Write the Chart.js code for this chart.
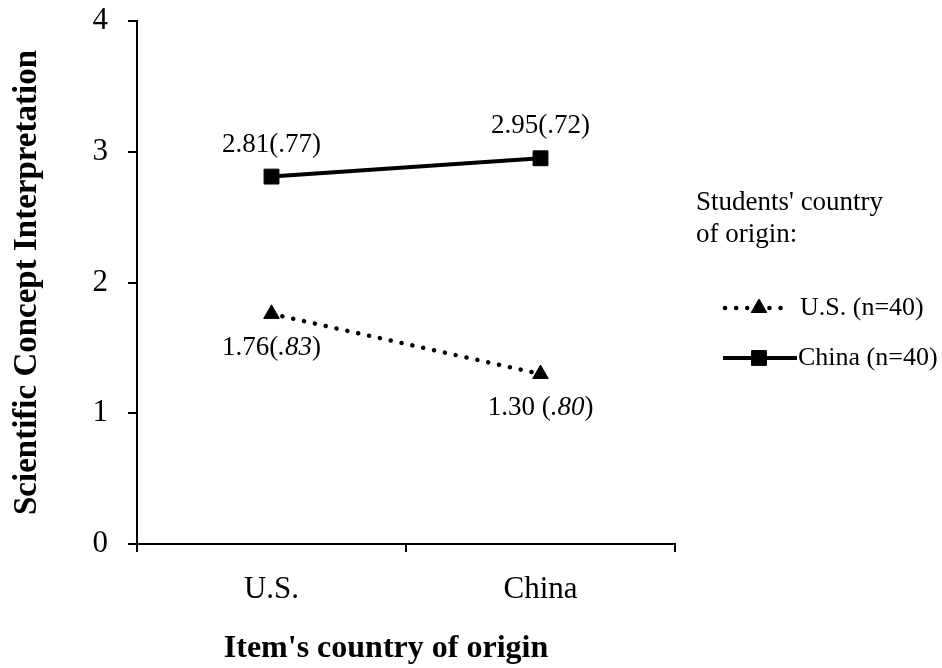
<!DOCTYPE html>
<html>
<head>
<meta charset="utf-8">
<script src="https://cdn.jsdelivr.net/npm/chart.js@4.4.0/dist/chart.umd.min.js"></script>
<style>
  html, body { margin: 0; padding: 0; background: #fff; }
</style>
</head>
<body>
<canvas id="lineChart" width="942" height="668"></canvas>
<script>
const itemCountries = ['U.S.', 'China']
const usStudents = [1.76, 1.30]
const chinaStudents = [2.81, 2.95]
const usLabels = ['1.76(.83)', '1.30 (.80)']
const chinaLabels = ['2.81(.77)', '2.95(.72)']
const seriesNames = ['U.S. (n=40)', 'China (n=40)']
const legendHeading = ["Students' country", 'of origin:']
const yTitle = 'Scientific Concept Interpretation'
const xTitle = "Item's country of origin"

const serif = "'Liberation Serif', 'Times New Roman', serif"

// mean + (sd) labels next to each point, sd part optionally italic
const pointLabels = {
  id: 'pointLabels',
  afterDatasetsDraw(chart) {
    const ctx = chart.ctx
    chart.data.datasets.forEach((ds, i) => {
      const meta = chart.getDatasetMeta(i)
      meta.data.forEach((pt, j) => {
        const str = ds.valueLabels[j]
        const k = str.indexOf('(')
        const head = str.slice(0, k + 1)
        const inner = str.slice(k + 1, -1)
        const tail = ')'
        const up = '27px ' + serif
        const it = (ds.sdItalic ? 'italic ' : '') + '27px ' + serif
        ctx.save()
        ctx.fillStyle = '#000'
        ctx.textBaseline = 'middle'
        ctx.textAlign = 'left'
        ctx.font = up
        const w1 = ctx.measureText(head).width
        const w3 = ctx.measureText(tail).width
        ctx.font = it
        const w2 = ctx.measureText(inner).width
        let x = pt.x - (w1 + w2 + w3) / 2
        const y = pt.y + ds.labelOffset
        ctx.font = up
        ctx.fillText(head, x, y)
        x += w1
        ctx.font = it
        ctx.fillText(inner, x, y)
        x += w2
        ctx.font = up
        ctx.fillText(tail, x, y)
        ctx.restore()
      })
    })
  }
}

// x axis title sits a bit left of the plot centre, like the original
const xAxisTitle = {
  id: 'xAxisTitle',
  afterDraw(chart) {
    const ctx = chart.ctx
    const area = chart.chartArea
    ctx.save()
    ctx.fillStyle = '#000'
    ctx.font = 'bold 32px ' + serif
    ctx.textAlign = 'center'
    ctx.textBaseline = 'middle'
    ctx.fillText(xTitle, area.left + 249, chart.scales.x.bottom - 19)
    ctx.restore()
  }
}

// legend drawn on the right, Excel style
const sideLegend = {
  id: 'sideLegend',
  afterDraw(chart) {
    const ctx = chart.ctx
    ctx.save()
    ctx.fillStyle = '#000'
    ctx.font = '27px ' + serif
    ctx.textBaseline = 'middle'
    ctx.textAlign = 'left'
    legendHeading.forEach((line, i) => ctx.fillText(line, 696, 203 + i * 32))

    const rows = [308, 358]
    chart.data.datasets.forEach((ds, i) => {
      const y = rows[i]
      const dotted = !!ds.borderDash
      ctx.save()
      ctx.strokeStyle = ds.borderColor
      ctx.lineWidth = ds.borderWidth
      ctx.lineCap = ds.borderCapStyle || 'butt'
      ctx.setLineDash(ds.borderDash || [])
      ctx.beginPath()
      ctx.moveTo(dotted ? 725 : 723, y)
      ctx.lineTo(dotted ? 790 : 797, y)
      ctx.stroke()
      ctx.restore()
      ctx.fillStyle = '#000'
      ctx.strokeStyle = '#000'
      ctx.lineWidth = 1
      Chart.helpers.drawPoint(ctx, {
        pointStyle: ds.pointStyle,
        radius: ds.pointRadius,
        rotation: 0,
        borderWidth: 1
      }, 759, y)
      ctx.fillStyle = '#000'
      ctx.font = '26px ' + serif
      ctx.fillText(ds.label, dotted ? 800 : 798, y)
    })
    ctx.restore()
  }
}

document.addEventListener('DOMContentLoaded', () => {
  const ctx = document.getElementById('lineChart').getContext('2d')

  new Chart(ctx, {
    type: 'line',
    data: {
      labels: itemCountries,
      datasets: [
        {
          label: seriesNames[0],
          data: usStudents,
          valueLabels: usLabels,
          sdItalic: true,
          labelOffset: 34,
          borderColor: '#000',
          backgroundColor: '#000',
          borderWidth: 4.5,
          borderDash: [0.1, 11],
          borderCapStyle: 'round',
          pointStyle: 'triangle',
          pointRadius: 9,
          pointBorderWidth: 1,
          pointBackgroundColor: '#000',
          pointBorderColor: '#000',
          fill: false,
        },
        {
          label: seriesNames[1],
          data: chinaStudents,
          valueLabels: chinaLabels,
          sdItalic: false,
          labelOffset: -32,
          borderColor: '#000',
          backgroundColor: '#000',
          borderWidth: 4,
          pointStyle: 'rect',
          pointRadius: 10.5,
          pointBorderWidth: 1,
          pointBackgroundColor: '#000',
          pointBorderColor: '#000',
          fill: false,
        },
      ],
    },
    options: {
      responsive: false,
      animation: false,
      layout: { padding: { top: 21, right: 267, left: 0, bottom: 0 } },
      plugins: {
        legend: { display: false },
        tooltip: { enabled: false },
      },
      scales: {
        x: {
          type: 'category',
          offset: true,
          afterFit: (scale) => {
            scale.height = 124
            scale.paddingLeft = 0
            scale.paddingRight = 0
          },
          grid: {
            offset: true,
            drawOnChartArea: false,
            drawTicks: true,
            tickLength: 8,
            color: '#000',
            lineWidth: 2,
          },
          border: { display: true, color: '#000', width: 2 },
          ticks: {
            color: '#000',
            padding: 19,
            font: { family: serif, size: 31 },
          },
        },
        y: {
          min: 0,
          max: 4,
          afterFit: (scale) => {
            scale.width = 137
            scale.paddingTop = 0
            scale.paddingBottom = 0
          },
          grid: {
            drawOnChartArea: false,
            drawTicks: true,
            tickLength: 9,
            color: '#000',
            lineWidth: 2,
          },
          border: { display: true, color: '#000', width: 2 },
          ticks: {
            stepSize: 1,
            color: '#000',
            padding: 20,
            font: { family: serif, size: 31 },
          },
          title: {
            display: true,
            text: yTitle,
            color: '#000',
            padding: { top: 8, bottom: 0 },
            font: { family: serif, size: 33, weight: 'bold' },
          },
        },
      },
    },
    plugins: [pointLabels, xAxisTitle, sideLegend],
  })
})
</script>
</body>
</html>
